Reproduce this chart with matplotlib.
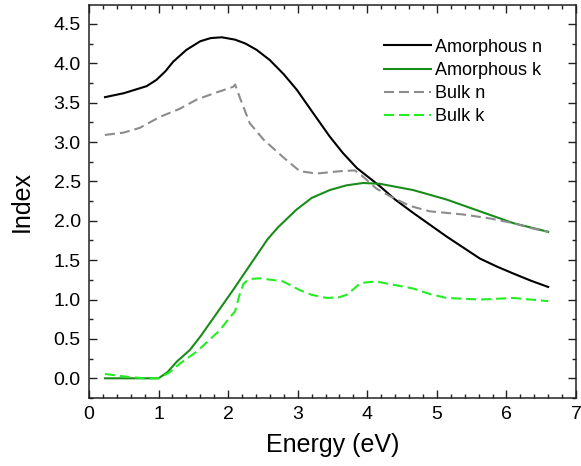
import matplotlib
matplotlib.use("Agg")
import matplotlib.pyplot as plt
from matplotlib.ticker import MultipleLocator

plt.rcParams['font.family'] = ['Liberation Sans', 'DejaVu Sans']

# Amorphous n
am_n_x = [0.23, 0.5, 0.83, 0.97, 1.1, 1.21, 1.4, 1.6, 1.75, 1.91, 2.1, 2.25, 2.41, 2.6, 2.8, 2.99, 3.22, 3.46, 3.65, 3.85, 4.18, 4.4, 4.66, 4.9, 5.14, 5.38, 5.62, 5.86, 6.1, 6.35, 6.6]
am_n_y = [3.57, 3.62, 3.71, 3.79, 3.90, 4.02, 4.17, 4.28, 4.32, 4.33, 4.30, 4.25, 4.17, 4.04, 3.86, 3.66, 3.37, 3.07, 2.86, 2.67, 2.44, 2.27, 2.10, 1.95, 1.80, 1.66, 1.52, 1.42, 1.33, 1.24, 1.16]

# Amorphous k
am_k_x = [0.23, 0.6, 1.0, 1.13, 1.26, 1.45, 1.6, 1.8, 2.07, 2.3, 2.57, 2.72, 2.98, 3.2, 3.46, 3.7, 3.94, 4.18, 4.66, 5.14, 5.62, 6.1, 6.6]
am_k_y = [0.0, 0.0, 0.0, 0.08, 0.21, 0.36, 0.53, 0.78, 1.12, 1.42, 1.77, 1.92, 2.14, 2.29, 2.39, 2.45, 2.48, 2.47, 2.39, 2.27, 2.12, 1.97, 1.86]

# Bulk n
bulk_n_x = [0.23, 0.5, 0.73, 1.02, 1.3, 1.55, 1.8, 2.07, 2.1, 2.17, 2.31, 2.51, 2.8, 3.03, 3.27, 3.61, 3.82, 3.94, 4.13, 4.33, 4.61, 4.9, 5.38, 5.76, 6.1, 6.34, 6.6]
bulk_n_y = [3.09, 3.12, 3.18, 3.32, 3.42, 3.54, 3.62, 3.70, 3.73, 3.56, 3.24, 3.03, 2.80, 2.63, 2.60, 2.63, 2.64, 2.56, 2.41, 2.31, 2.19, 2.12, 2.08, 2.03, 1.97, 1.91, 1.86]

# Bulk k
bulk_k_x = [0.23, 0.54, 0.8, 1.0, 1.15, 1.31, 1.55, 1.88, 2.03, 2.1, 2.16, 2.22, 2.3, 2.46, 2.79, 3.03, 3.2, 3.42, 3.6, 3.7, 3.8, 3.9, 4.13, 4.3, 4.66, 4.9, 5.14, 5.62, 6.1, 6.6]
bulk_k_y = [0.055, 0.02, 0.0, 0.0, 0.07, 0.19, 0.34, 0.61, 0.78, 0.85, 1.05, 1.20, 1.26, 1.27, 1.23, 1.12, 1.06, 1.02, 1.03, 1.06, 1.13, 1.21, 1.23, 1.20, 1.14, 1.07, 1.02, 1.00, 1.02, 0.98]

labels = ["Amorphous n", "Amorphous k", "Bulk n", "Bulk k"]

fig = plt.figure(figsize=(5.81, 4.66), dpi=100)
ax = fig.add_axes([89/581, 1 - 398/466, (576-89)/581, (398-5)/466])

lw = 1.5
ax.plot(am_n_x, am_n_y, color='black', lw=lw, label=labels[0])
ax.plot(am_k_x, am_k_y, color='#1a8c1a', lw=lw, label=labels[1])
ax.plot(bulk_n_x, bulk_n_y, color='#8c8c8c', lw=lw, dashes=(4.8, 2.4), label=labels[2])
ax.plot(bulk_k_x, bulk_k_y, color='#22ee22', lw=lw, dashes=(4.8, 2.4), label=labels[3])

ax.set_xlim(0, 7)
ax.set_ylim(-0.25, 4.74)
ax.xaxis.set_major_locator(MultipleLocator(1))
ax.xaxis.set_minor_locator(MultipleLocator(0.2))
ax.yaxis.set_major_locator(MultipleLocator(0.5))
ax.yaxis.set_minor_locator(MultipleLocator(0.25))
ax.yaxis.set_major_formatter(matplotlib.ticker.FormatStrFormatter('%.1f'))

for s in ax.spines.values():
    s.set_linewidth(1.1)
    s.set_color('#222222')
ax.tick_params(which='both', direction='in', top=True, right=True, width=1.0, color='#222222')
ax.tick_params(which='major', length=6, labelsize=14, pad=6)
ax.tick_params(which='minor', length=3)

ax.set_xlabel("Energy (eV)", fontsize=18, labelpad=7)
ax.set_ylabel("Index", fontsize=18, labelpad=14)

leg = ax.legend(loc='upper left', bbox_to_anchor=(0.606, 0.914), frameon=False,
                fontsize=13, handlelength=2.6, handletextpad=0.2,
                labelspacing=0.34, borderpad=0, borderaxespad=0)

fig.savefig("out.png", dpi=100)
